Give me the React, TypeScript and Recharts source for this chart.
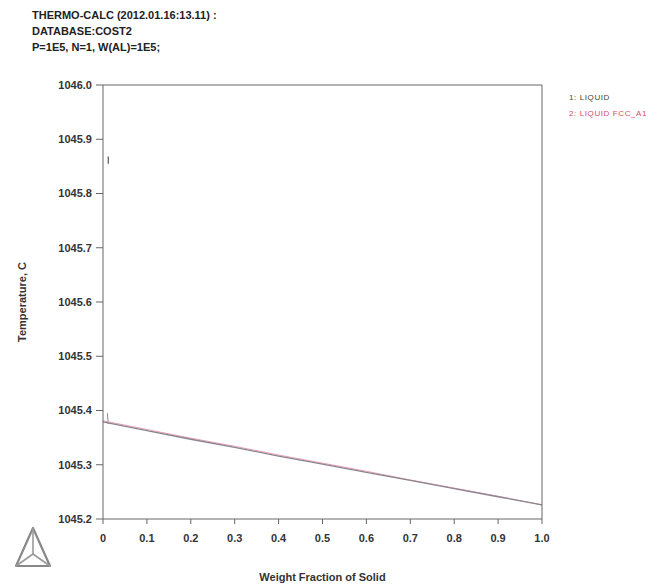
import { LineChart, Line, XAxis, YAxis, ReferenceLine } from "recharts";

const fractions = [0, 0.1, 0.2, 0.3, 0.4, 0.5, 0.6, 0.7, 0.8, 0.9, 1.0];
const liquidTemps = [1045.379, 1045.363, 1045.347, 1045.332, 1045.316, 1045.301, 1045.286, 1045.271, 1045.256, 1045.241, 1045.226];
const fccTemps = [1045.381, 1045.365, 1045.349, 1045.334, 1045.318, 1045.303, 1045.288, 1045.272, 1045.257, 1045.242, 1045.226];
const xTicks = [0, 0.1, 0.2, 0.3, 0.4, 0.5, 0.6, 0.7, 0.8, 0.9, 1.0];
const yTicks = [1045.2, 1045.3, 1045.4, 1045.5, 1045.6, 1045.7, 1045.8, 1045.9, 1046.0];
const headerLines = ["THERMO-CALC (2012.01.16:13.11) :", "DATABASE:COST2", "P=1E5, N=1, W(AL)=1E5;"];
const legendItems = [
  { label: "1: LIQUID", color: "#444" },
  { label: "2: LIQUID FCC_A1", color: "#d84a6a" },
];

const data = fractions.map((f, i) => ({ f, liq: liquidTemps[i], fcc: fccTemps[i] }));

const FONT = "'Liberation Sans', Arial, sans-serif";
const AXIS = "#666";
const tickStyle = { fill: "#333", fontSize: 11, fontWeight: 700, fontFamily: FONT };

export default function App() {
  return (
    <div style={{ position: "absolute", left: 0, top: 0, width: 662, height: 588, background: "#fff", fontFamily: FONT }}>
      <div style={{ position: "absolute", left: 32, top: 7, fontSize: 11, fontWeight: 700, lineHeight: "16px", color: "#222" }}>
        {headerLines.map((l) => (
          <div key={l}>{l}</div>
        ))}
      </div>
      <LineChart width={662} height={588} data={data} margin={{ top: 84, right: 119, bottom: 7, left: 20 }}>
        <XAxis
          xAxisId="b"
          dataKey="f"
          type="number"
          domain={[0, 1]}
          ticks={xTicks}
          tickFormatter={(v: number) => (v === 0 ? "0" : v.toFixed(1))}
          tick={tickStyle}
          tickMargin={10}
          stroke={AXIS}
          tickSize={5}
          height={62}
          label={{ value: "Weight Fraction of Solid", position: "insideBottom", offset: 0, style: { fill: "#333", fontSize: 11, fontWeight: 700, fontFamily: FONT } }}
        />
        <XAxis xAxisId="t" orientation="top" dataKey="f" type="number" domain={[0, 1]} ticks={xTicks} tick={false} stroke={AXIS} tickSize={5} height={1} />
        <YAxis
          yAxisId="l"
          type="number"
          domain={[1045.2, 1046.0]}
          ticks={yTicks}
          tickFormatter={(v: number) => v.toFixed(1)}
          tick={tickStyle}
          tickMargin={4}
          stroke={AXIS}
          tickSize={7}
          width={83}
        />
        <YAxis yAxisId="r" orientation="right" type="number" domain={[1045.2, 1046.0]} ticks={yTicks} tick={false} stroke={AXIS} tickSize={5} width={1} />
        <ReferenceLine xAxisId="b" yAxisId="l" segment={[{ x: 0.012, y: 1045.855 }, { x: 0.012, y: 1045.868 }]} stroke="#555" strokeWidth={1.2} />
        <ReferenceLine xAxisId="b" yAxisId="l" segment={[{ x: 0.01, y: 1045.395 }, { x: 0.012, y: 1045.375 }]} stroke="#888" strokeWidth={1} />
        <Line xAxisId="b" yAxisId="l" dataKey="fcc" stroke="#e8a0b4" strokeWidth={1} dot={false} isAnimationActive={false} />
        <Line xAxisId="b" yAxisId="l" dataKey="liq" stroke="#8a8490" strokeWidth={1.3} dot={false} isAnimationActive={false} />
      </LineChart>
      <div
        style={{
          position: "absolute",
          left: 22,
          top: 302,
          transform: "translate(-50%, -50%) rotate(-90deg)",
          whiteSpace: "nowrap",
          fontSize: 11,
          fontWeight: 700,
          color: "#333",
        }}
      >
        Temperature, C
      </div>
      <div style={{ position: "absolute", left: 569, top: 90, fontSize: 8, lineHeight: "16px", letterSpacing: 0.6, whiteSpace: "nowrap" }}>
        {legendItems.map((it) => (
          <div key={it.label} style={{ color: it.color }}>{it.label}</div>
        ))}
      </div>
      <svg style={{ position: "absolute", left: 14, top: 526 }} width={38} height={42}>
        <polygon points="19,2 36,40 2,40" fill="none" stroke="#888" strokeWidth={2.2} strokeLinejoin="round" />
        <line x1={19} y1={2} x2={19} y2={28} stroke="#999" strokeWidth={1.6} />
        <line x1={19} y1={28} x2={2} y2={40} stroke="#999" strokeWidth={1.6} />
        <line x1={19} y1={28} x2={36} y2={40} stroke="#999" strokeWidth={1.6} />
      </svg>
    </div>
  );
}
